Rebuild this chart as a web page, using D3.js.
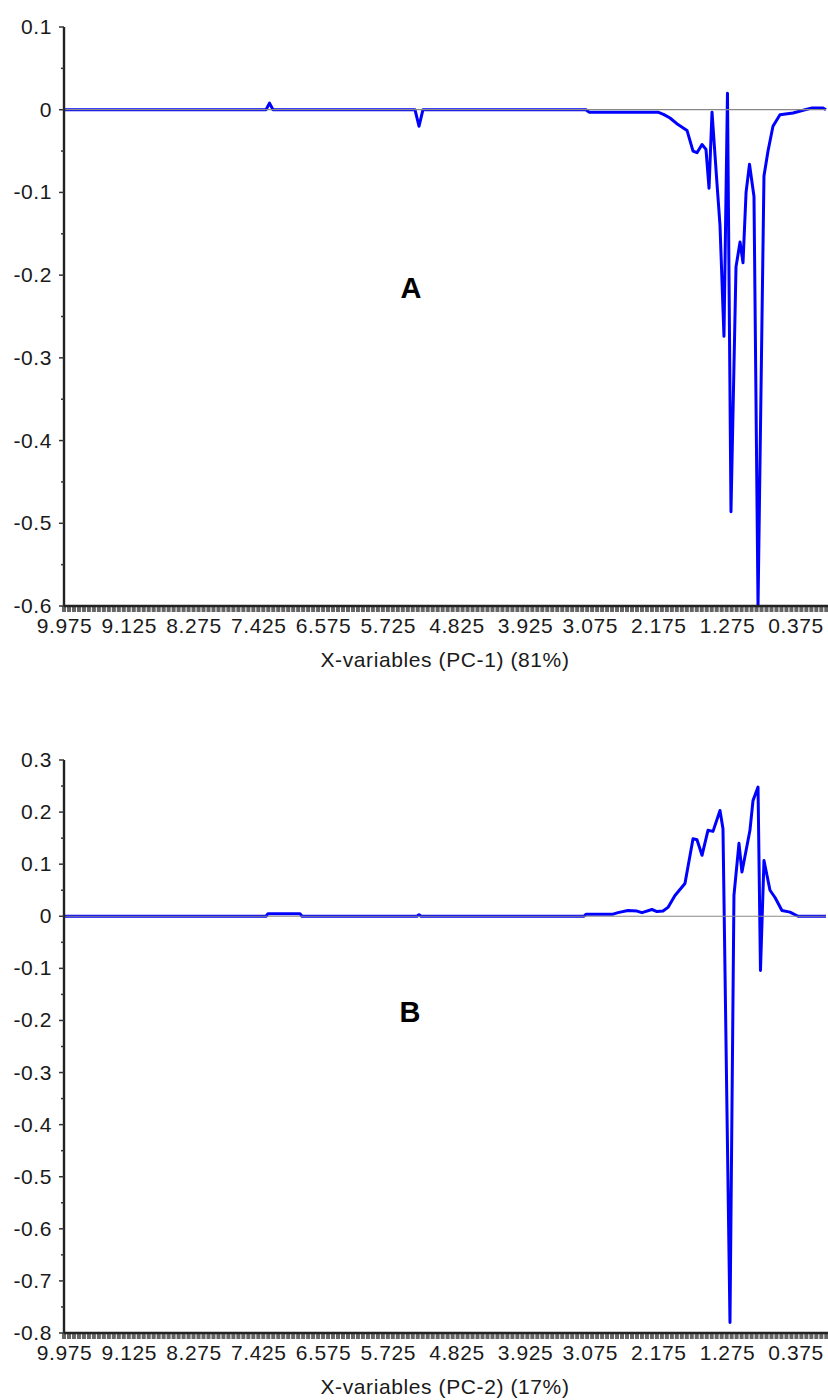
<!DOCTYPE html>
<html>
<head>
<meta charset="utf-8">
<script src="https://cdn.jsdelivr.net/npm/d3@7"></script>
<style>
  body { margin: 0; background: #fff; }
  text { font-family: "Liberation Sans", Arial, sans-serif; fill: #1a1a1a; }
</style>
</head>
<body>
<div id="chart"></div>
<script>
// Loadings plot, PC-1 and PC-2 (ppm on a reversed x axis)

// x tick labels shared by both panels
const xTickLabels = [9.975, 9.125, 8.275, 7.425, 6.575, 5.725, 4.825, 3.925, 3.075, 2.175, 1.275, 0.375];

// Panel A: PC-1 loadings
const ppmA = [9.975, 7.324, 7.278, 7.232, 5.369, 5.316, 5.264, 3.125, 3.085, 2.180, 2.101, 2.022, 1.917, 1.799,
  1.720, 1.668, 1.602, 1.550, 1.510, 1.471, 1.405, 1.366, 1.314, 1.268, 1.222, 1.156, 1.103, 1.064, 1.024,
  0.979, 0.920, 0.867, 0.789, 0.736, 0.671, 0.579, 0.408, 0.250, 0.159, 0.014, -0.025];
const loadA = [0, 0, 0.008, 0, 0, -0.02, 0, 0, -0.003, -0.003, -0.006, -0.01, -0.018, -0.025,
  -0.05, -0.052, -0.042, -0.048, -0.095, -0.003, -0.09, -0.14, -0.274, 0.02, -0.486, -0.19, -0.16, -0.185, -0.1,
  -0.066, -0.105, -0.6, -0.08, -0.05, -0.02, -0.006, -0.004, 0, 0.002, 0.002, 0];
const yTicksA = [0.1, 0, -0.1, -0.2, -0.3, -0.4, -0.5, -0.6];

// Panel B: PC-2 loadings
const ppmB = [9.975, 7.324, 7.298, 6.878, 6.852, 5.343, 5.316, 5.290, 3.151, 3.125, 2.770, 2.705, 2.574, 2.455,
  2.390, 2.259, 2.193, 2.114, 2.049, 1.957, 1.826, 1.720, 1.668, 1.602, 1.524, 1.458, 1.366, 1.327, 1.235,
  1.183, 1.117, 1.078, 0.973, 0.933, 0.867, 0.835, 0.789, 0.710, 0.644, 0.553, 0.448, 0.342, -0.025];
const loadB = [0, 0, 0.005, 0.005, 0, 0, 0.003, 0, 0, 0.004, 0.004, 0.007, 0.011, 0.01,
  0.007, 0.013, 0.009, 0.01, 0.017, 0.04, 0.063, 0.149, 0.147, 0.117, 0.165, 0.163, 0.203, 0.168, -0.78,
  0.04, 0.14, 0.085, 0.165, 0.222, 0.248, -0.104, 0.107, 0.05, 0.036, 0.011, 0.008, 0, 0];
const yTicksB = [0.3, 0.2, 0.1, 0, -0.1, -0.2, -0.3, -0.4, -0.5, -0.6, -0.7, -0.8];

const width = 828;
const height = 1400;

const svg = d3.select("#chart")
  .append("svg")
  .attr("width", width)
  .attr("height", height);

function drawPanel(opts) {
  const g = svg.append("g");
  const left = 64, right = 826;

  const x = d3.scaleLinear().domain([9.975, -0.025]).range([left, right]);
  const y = d3.scaleLinear().domain(opts.yDomain).range([opts.bottom, opts.top]);

  // data line
  const line = d3.line().x((d, i) => x(opts.ppm[i])).y(d => y(d));
  g.append("path")
    .datum(opts.values)
    .attr("fill", "none")
    .attr("stroke", "#0000ff")
    .attr("stroke-width", 3)
    .attr("stroke-linejoin", "round")
    .attr("d", line);

  // zero line on top
  g.append("line")
    .attr("x1", left).attr("x2", right)
    .attr("y1", y(0)).attr("y2", y(0))
    .attr("stroke", "#888")
    .attr("stroke-width", 1.2);

  // dense x ticks under the axis
  const minor = d3.range(9.975, -0.03, -0.85 / 13);
  g.selectAll("line.xminor")
    .data(minor)
    .join("line")
    .attr("class", "xminor")
    .attr("x1", d => x(d)).attr("x2", d => x(d))
    .attr("y1", opts.bottom).attr("y2", opts.bottom + 6)
    .attr("stroke", "#666")
    .attr("stroke-width", 4);

  // axes lines
  g.append("line")
    .attr("x1", left).attr("x2", width)
    .attr("y1", opts.bottom).attr("y2", opts.bottom)
    .attr("stroke", "#222").attr("stroke-width", 2.4);
  g.append("line")
    .attr("x1", left).attr("x2", left)
    .attr("y1", opts.top).attr("y2", opts.bottom)
    .attr("stroke", "#222").attr("stroke-width", 2.4);

  // y ticks, major and minor
  g.selectAll("line.ymajor")
    .data(opts.yTicks)
    .join("line")
    .attr("x1", left - 5).attr("x2", left)
    .attr("y1", d => y(d)).attr("y2", d => y(d))
    .attr("stroke", "#333").attr("stroke-width", 1.5);
  g.selectAll("line.yminor")
    .data(opts.yTicks.slice(1).map(d => d + 0.05))
    .join("line")
    .attr("x1", left - 3).attr("x2", left)
    .attr("y1", d => y(d)).attr("y2", d => y(d))
    .attr("stroke", "#333").attr("stroke-width", 1.5);

  g.selectAll("text.ylab")
    .data(opts.yTicks)
    .join("text")
    .attr("x", 52)
    .attr("y", d => y(d) + 7)
    .attr("text-anchor", "end")
    .style("font-size", "21px")
    .style("letter-spacing", "0.6px")
    .text(d => d === 0 ? "0" : d3.format(".1f")(d).replace("−", "-"));

  g.selectAll("text.xlab")
    .data(xTickLabels)
    .join("text")
    .attr("x", d => x(d) + 0.5)
    .attr("y", opts.bottom + 27)
    .attr("text-anchor", "middle")
    .style("font-size", "21px")
    .style("letter-spacing", "0.6px")
    .text(d => d3.format(".3f")(d));

  g.append("text")
    .attr("x", 445)
    .attr("y", opts.bottom + 61)
    .attr("text-anchor", "middle")
    .style("font-size", "21px")
    .style("letter-spacing", "0.6px")
    .text(opts.title);

  g.append("text")
    .attr("x", opts.letterX)
    .attr("y", opts.letterY)
    .attr("text-anchor", "middle")
    .style("font-size", "29px")
    .style("font-weight", "bold")
    .style("fill", "#000")
    .text(opts.letter);
}

drawPanel({
  ppm: ppmA, values: loadA, yTicks: yTicksA, yDomain: [-0.6, 0.1],
  top: 27, bottom: 606, title: "X-variables (PC-1) (81%)",
  letter: "A", letterX: 411, letterY: 298
});

drawPanel({
  ppm: ppmB, values: loadB, yTicks: yTicksB, yDomain: [-0.8, 0.3],
  top: 760, bottom: 1333, title: "X-variables (PC-2) (17%)",
  letter: "B", letterX: 410, letterY: 1022
});
</script>
</body>
</html>
